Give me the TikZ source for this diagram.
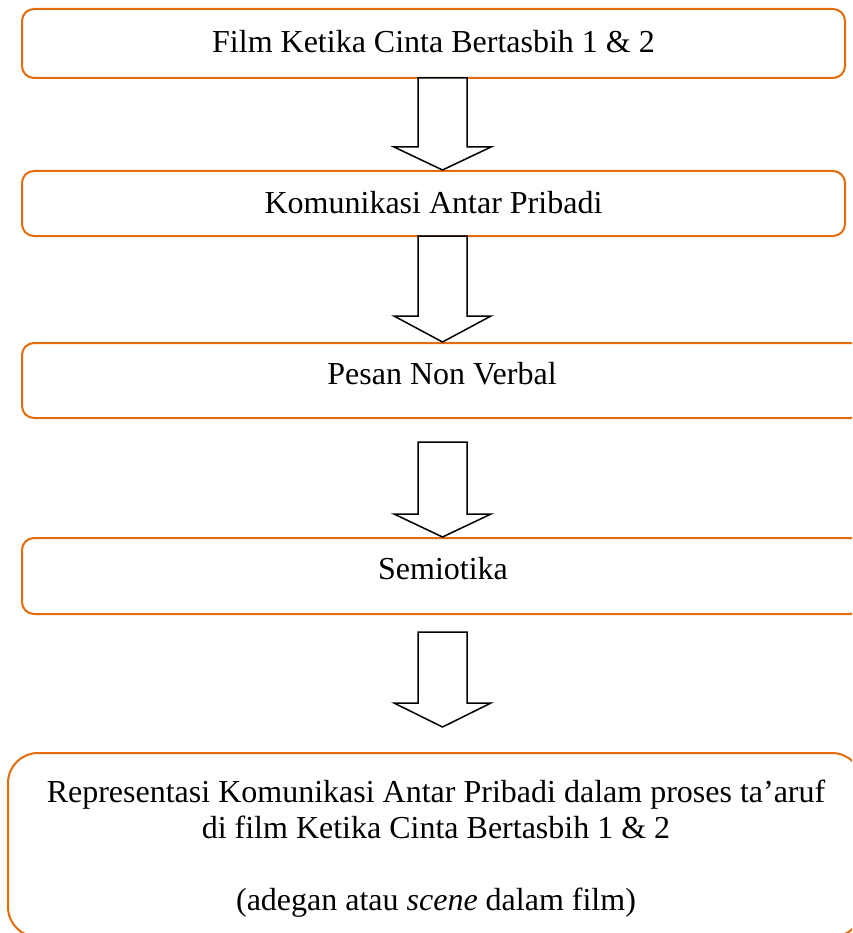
\documentclass[tikz,border=0pt]{standalone}
\usepackage{fontspec}
\setmainfont{Liberation Serif}
\usetikzlibrary{calc}
\definecolor{boxorange}{RGB}{228,108,10}
\tikzset{
  flowbox/.style={draw=boxorange, line width=2pt, rounded corners=12pt, fill=white, inner sep=0pt},
  bigbox/.style={flowbox, rounded corners=30pt},
  boxtext/.style={anchor=base, inner sep=0pt, font=\fontsize{32}{36}\selectfont},
  blockarrow/.style={draw=black, fill=white, line width=1.5pt, line join=miter}
}
\newcommand\blockarrow[3]{%
  \draw[blockarrow] (418,#1) -- (467,#1) -- (467,#2) -- (491,#2) -- (442.5,#3) -- (394,#2) -- (418,#2) -- cycle;}
\begin{document}
\begin{tikzpicture}[x=1pt,y=-1pt]
\useasboundingbox (0,0) rectangle (852,933);
\clip (0,0) rectangle (852,933);
% boxes
\node[flowbox, minimum width=823pt, minimum height=69pt] (b1) at (433.5,43.5) {};
\node[flowbox, minimum width=823pt, minimum height=65pt] (b2) at (433.5,203.5) {};
\node[flowbox, minimum width=840pt, minimum height=75pt] (b3) at (442,380.5) {};
\node[flowbox, minimum width=840pt, minimum height=76pt] (b4) at (442,576) {};
\node[bigbox, minimum width=854pt, minimum height=184pt] (b5) at (435,845) {};
% texts
\node[boxtext] (t1) at (433.5,53) {Film Ketika Cinta Bertasbih 1 \& 2};
\node[boxtext] (t2) at (433.5,214) {Komunikasi Antar Pribadi};
\node[boxtext] (t3) at (442,384) {Pesan Non Verbal};
\node[boxtext] (t4) at (443,579) {Semiotika};
\node[boxtext, align=center, anchor=north] (t5) at (436,780)
  {Representasi Komunikasi Antar Pribadi dalam proses ta’aruf\\
   di film Ketika Cinta Bertasbih 1 \& 2\\[36pt]
   (adegan atau \textit{scene} dalam film)};
% block arrows
\blockarrow{78}{147}{170}
\blockarrow{236}{316}{342}
\blockarrow{442}{514}{537}
\blockarrow{632}{703}{727}
\end{tikzpicture}
\end{document}
